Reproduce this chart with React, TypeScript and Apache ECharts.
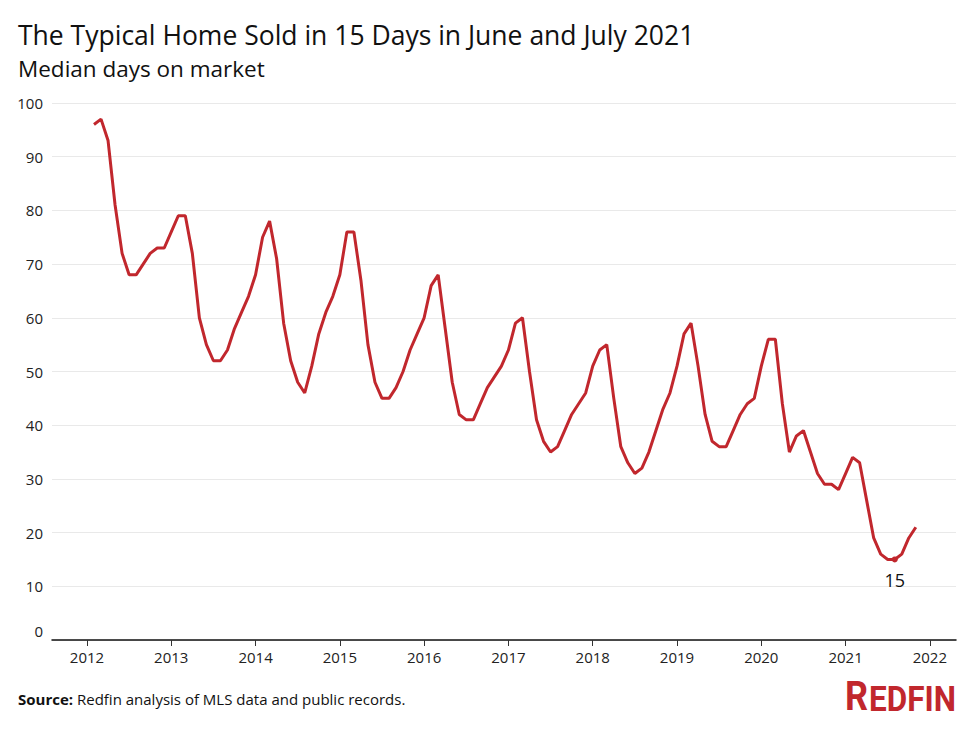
import React, { useEffect, useRef } from "react";
import * as echarts from "echarts";

const titleText = "The Typical Home Sold in 15 Days in June and July 2021";
const subtitleText = "Median days on market";
const sourceLabel = "Source:";
const sourceText = " Redfin analysis of MLS data and public records.";

const startYear = 2012;
const startMonth = 2; // February 2012
// Median days on market, monthly, Feb 2012 – Nov 2021
const values2012 = [96, 97, 93, 81, 72, 68, 68, 70, 72, 73, 73];
const values2013 = [76, 79, 79, 72, 60, 55, 52, 52, 54, 58, 61, 64];
const values2014 = [68, 75, 78, 71, 59, 52, 48, 46, 51, 57, 61, 64];
const values2015 = [68, 76, 76, 67, 55, 48, 45, 45, 47, 50, 54, 57];
const values2016 = [60, 66, 68, 58, 48, 42, 41, 41, 44, 47, 49, 51];
const values2017 = [54, 59, 60, 50, 41, 37, 35, 36, 39, 42, 44, 46];
const values2018 = [51, 54, 55, 45, 36, 33, 31, 32, 35, 39, 43, 46];
const values2019 = [51, 57, 59, 51, 42, 37, 36, 36, 39, 42, 44, 45];
const values2020 = [51, 56, 56, 44, 35, 38, 39, 35, 31, 29, 29, 28];
const values2021 = [31, 34, 33, 26, 19, 16, 15, 15, 16, 19, 21];

const yearTicks = [2012, 2013, 2014, 2015, 2016, 2017, 2018, 2019, 2020, 2021, 2022];
const yTicks = [0, 10, 20, 30, 40, 50, 60, 70, 80, 90, 100];

const annotationYear = 2021;
const annotationMonth = 8;
const annotationLabel = "15";

const RED = "#c1272d";

export default function App() {
  const ref = useRef<HTMLDivElement>(null);

  useEffect(() => {
    document.body.style.margin = "0";
    if (!ref.current) return;
    const chart = echarts.init(ref.current, null, { renderer: "svg" });

    const allValues = [
      ...values2012, ...values2013, ...values2014, ...values2015, ...values2016,
      ...values2017, ...values2018, ...values2019, ...values2020, ...values2021,
    ];
    const data = allValues.map((v, i) => {
      const m = startMonth - 1 + i;
      return [startYear + m / 12, v];
    });
    const annX = annotationYear + (annotationMonth - 1) / 12;
    const annIdx = data.findIndex((d) => Math.abs(d[0] - annX) < 1e-6);
    const annY = annIdx >= 0 ? data[annIdx][1] : 15;

    const font = "'Open Sans', 'Noto Sans', sans-serif";

    chart.setOption({
      animation: false,
      backgroundColor: "#ffffff",
      grid: { left: 52, right: 20, top: 103, bottom: 89, containLabel: false },
      xAxis: {
        type: "value",
        min: 2011.585,
        max: 2022.31,
        axisLine: { show: true, lineStyle: { color: "#111", width: 1.5 } },
        axisTick: {
          show: true,
          customValues: yearTicks,
          length: 6,
          lineStyle: { color: "#333", width: 1 },
        },
        axisLabel: {
          customValues: yearTicks,
          formatter: (v: number) => String(Math.round(v)),
          color: "#222",
          fontSize: 15,
          fontFamily: font,
          margin: 9,
        },
        splitLine: { show: false },
      },
      yAxis: {
        type: "value",
        min: yTicks[0],
        max: yTicks[yTicks.length - 1],
        interval: 10,
        axisLine: { show: false },
        axisTick: { show: false },
        axisLabel: {
          color: "#222",
          fontSize: 15,
          fontFamily: font,
          margin: 9,
          formatter: (v: number) => (v === 0 ? "{z|0}" : String(v)),
          rich: {
            z: { fontSize: 15, fontFamily: font, color: "#222", padding: [0, 0, 18, 0] },
          },
        },
        splitLine: { show: true, lineStyle: { color: "#e9e9e9", width: 1 } },
      },
      series: [
        {
          type: "line",
          data,
          showSymbol: false,
          symbol: "none",
          lineStyle: { color: RED, width: 3 },
          itemStyle: { color: RED },
          z: 3,
          markPoint: {
            symbol: "circle",
            symbolSize: 6,
            itemStyle: { color: RED },
            label: {
              show: true,
              formatter: annotationLabel,
              position: "bottom",
              distance: 9,
              color: "#111",
              fontSize: 18,
              fontFamily: font,
            },
            data: [{ coord: [annX, annY] }],
          },
        },
      ],
      graphic: [
        {
          type: "text",
          left: 18,
          top: 21,
          style: { text: titleText, fontSize: 26.5, lineHeight: 27, fontFamily: font, fill: "#111" },
        },
        {
          type: "text",
          left: 18,
          top: 57,
          style: { text: subtitleText, fontSize: 22.5, lineHeight: 22, fontFamily: font, fill: "#111" },
        },
        {
          type: "text",
          left: 18,
          top: 691,
          style: {
            text: "{b|" + sourceLabel + "}{n|" + sourceText + "}",
            rich: {
              b: { fontSize: 15, fontWeight: "bold", fontFamily: font, fill: "#111" },
              n: { fontSize: 15, fontFamily: font, fill: "#111" },
            },
          },
        },
        {
          type: "text",
          x: 845,
          y: 716,
          scaleX: 0.9,
          style: {
            text: "R",
            fontSize: 40,
            fontWeight: "bold",
            fontFamily: "Roboto, 'Liberation Sans', sans-serif",
            fill: RED,
            textVerticalAlign: "bottom",
          },
        },
        {
          type: "text",
          x: 869,
          y: 716,
          scaleX: 0.9,
          style: {
            text: "EDFIN",
            fontSize: 35,
            fontWeight: "bold",
            fontFamily: "Roboto, 'Liberation Sans', sans-serif",
            fill: RED,
            textVerticalAlign: "bottom",
          },
        },
      ],
    });

    return () => chart.dispose();
  }, []);

  return <div ref={ref} style={{ width: 976, height: 729 }} />;
}
